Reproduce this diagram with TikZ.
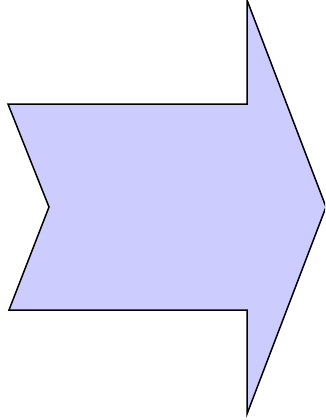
\documentclass[tikz,border=0pt]{standalone}
\begin{document}
\begin{tikzpicture}[x=1pt,y=-1pt,
  arrowshape/.style={draw=black, fill=blue!20, line width=1.5pt, line join=miter}]
\useasboundingbox (0,0) rectangle (325,420);
\begin{scope}
\clip (0,0) rectangle (325,420);
\draw[arrowshape] (8,104) -- (247,104) -- (247,0) -- (326,207) -- (247,414)
  -- (247,310) -- (9,310) -- (49,207) -- cycle;
\end{scope}
\end{tikzpicture}
\end{document}
